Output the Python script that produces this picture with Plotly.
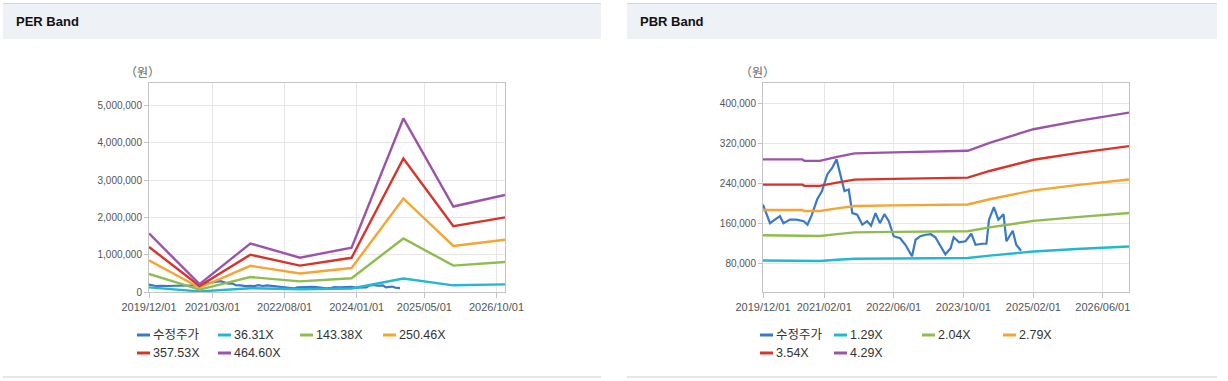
import plotly.graph_objects as go

W, H = 1228, 381

# ---------------- PER band data (left) ----------------
per_dates = ["2019-12-01", "2020-11-28", "2021-11-28", "2022-11-19",
             "2023-11-25", "2024-12-01", "2025-11-25", "2026-12-01"]
per_36 = [123000, 16000, 102000, 72000, 93000, 363000, 179000, 203000]
per_143 = [485000, 65000, 401000, 284000, 367000, 1435000, 707000, 802000]
per_250 = [846000, 113000, 701000, 496000, 642000, 2507000, 1235000, 1402000]
per_357 = [1208000, 162000, 1000000, 708000, 916000, 3579000, 1762000, 2001000]
per_464 = [1570000, 210000, 1300000, 920000, 1190000, 4650000, 2290000, 2600000]

# ---------------- adjusted price (both charts) ----------------
price_dates = ["2019-12-01", "2020-01-19", "2020-02-22", "2020-03-28", "2020-04-22",
               "2020-06-07", "2020-07-22", "2020-09-10", "2020-10-07", "2020-11-07",
               "2020-12-13", "2021-01-16", "2021-02-22", "2021-03-28", "2021-04-28",
               "2021-05-25", "2021-06-22", "2021-07-22", "2021-08-16", "2021-09-19",
               "2021-10-25", "2021-11-28", "2021-12-25", "2022-01-25", "2022-02-25",
               "2022-03-28", "2022-04-28", "2022-06-01", "2022-07-16", "2022-08-22",
               "2022-10-07", "2022-11-01", "2022-12-04", "2023-01-10", "2023-02-16",
               "2023-03-19", "2023-04-25", "2023-05-28", "2023-07-04", "2023-07-25",
               "2023-09-01", "2023-10-16", "2023-11-25", "2023-12-25", "2024-02-10",
               "2024-03-10", "2024-03-28", "2024-05-01", "2024-06-01", "2024-07-07",
               "2024-07-28", "2024-09-10", "2024-10-04", "2024-11-07"]
price = [198000, 161000, 168000, 175000, 161000,
         168000, 168000, 165000, 158000, 178000,
         208000, 225000, 258000, 271000, 288000,
         258000, 225000, 228000, 181000, 178000,
         158000, 165000, 156000, 181000, 161000,
         179000, 165000, 135000, 131000, 118000,
         95000, 128000, 135000, 138000, 139000,
         133000, 115000, 99000, 111000, 133000,
         123000, 125000, 140000, 118000, 120000,
         120000, 168000, 193000, 168000, 179000,
         125000, 146000, 118000, 106000]

# ---------------- PBR band data (right) ----------------
pbr_dates = ["2019-12-01", "2020-09-01", "2020-09-15", "2021-01-01", "2021-05-01",
             "2021-09-01", "2022-06-01", "2023-11-01", "2024-04-01", "2025-02-01",
             "2025-12-01", "2026-12-01"]
pbr_129 = [86600, 86600, 85700, 85700, 88100, 90200, 90800, 91700, 96500, 104600, 109500, 114600]
pbr_204 = [136900, 136900, 135500, 135500, 139300, 142700, 143600, 145000, 152600, 165500, 173100, 181200]
pbr_279 = [187300, 187300, 185300, 185300, 190500, 195100, 196400, 198300, 208700, 226300, 236700, 247800]
pbr_354 = [237700, 237700, 235200, 235200, 241800, 247600, 249200, 251700, 264900, 287200, 300400, 314400]
pbr_429 = [288000, 288000, 285000, 285000, 293000, 300000, 302000, 305000, 321000, 348000, 364000, 381000]

price_name = "수정주가"
per_names = ["36.31X", "143.38X", "250.46X", "357.53X", "464.60X"]
pbr_names = ["1.29X", "2.04X", "2.79X", "3.54X", "4.29X"]

per_ticks = ["2019-12-01", "2021-03-01", "2022-08-01", "2024-01-01", "2025-05-01", "2026-10-01"]
pbr_ticks = ["2019-12-01", "2021-02-01", "2022-06-01", "2023-10-01", "2025-02-01", "2026-06-01"]
per_yticks = [0, 1000000, 2000000, 3000000, 4000000, 5000000]
pbr_yticks = [80000, 160000, 240000, 320000, 400000]

COL_PRICE = "#3a78c9"
BAND_COLS = ["#22b8cf", "#8fbc4f", "#f5a531", "#d6352c", "#9b55a8"]

FONT = "Liberation Sans, Arial, Noto Sans CJK KR, sans-serif"


def fx(p):
    return p / W


def fy(p):
    return 1 - p / H


fig = go.Figure()

# left chart traces
fig.add_trace(go.Scatter(x=price_dates, y=price, name=price_name, mode="lines",
                         line=dict(color=COL_PRICE, width=2.2), xaxis="x", yaxis="y"))
per_series = [per_36, per_143, per_250, per_357, per_464]
for i, (nm, vals) in enumerate(zip(per_names, per_series)):
    fig.add_trace(go.Scatter(x=per_dates, y=vals, name=nm, mode="lines",
                             line=dict(color=BAND_COLS[i], width=2.4), xaxis="x", yaxis="y"))

# right chart traces
fig.add_trace(go.Scatter(x=price_dates, y=price, name=price_name, mode="lines",
                         line=dict(color=COL_PRICE, width=2.2), xaxis="x2", yaxis="y2"))
pbr_series = [pbr_129, pbr_204, pbr_279, pbr_354, pbr_429]
for i, (nm, vals) in enumerate(zip(pbr_names, pbr_series)):
    fig.add_trace(go.Scatter(x=pbr_dates, y=vals, name=nm, mode="lines",
                             line=dict(color=BAND_COLS[i], width=2.4), xaxis="x2", yaxis="y2"))

axis_common = dict(showgrid=True, gridcolor="#e6e6e6", gridwidth=1,
                   showline=True, linecolor="#c4c4c4", linewidth=1, mirror=True,
                   ticks="outside", tickcolor="#c4c4c4", zeroline=False,
                   fixedrange=True)

xfont = dict(family=FONT, size=11, color="#555555")
yfont = dict(family=FONT, size=10, color="#555555")

shapes = [
    dict(type="rect", xref="paper", yref="paper", x0=fx(3), x1=fx(601),
         y0=fy(39), y1=fy(3.5), fillcolor="#eef2f7", line=dict(width=0), layer="below"),
    dict(type="rect", xref="paper", yref="paper", x0=fx(627), x1=fx(1217),
         y0=fy(39), y1=fy(3.5), fillcolor="#eef2f7", line=dict(width=0), layer="below"),
    dict(type="line", xref="paper", yref="paper", x0=fx(3), x1=fx(601),
         y0=fy(3.5), y1=fy(3.5), line=dict(color="#d4d4d4", width=1)),
    dict(type="line", xref="paper", yref="paper", x0=fx(627), x1=fx(1217),
         y0=fy(3.5), y1=fy(3.5), line=dict(color="#d4d4d4", width=1)),
    dict(type="line", xref="paper", yref="paper", x0=fx(3), x1=fx(601),
         y0=fy(377), y1=fy(377), line=dict(color="#d0d0d0", width=1)),
    dict(type="line", xref="paper", yref="paper", x0=fx(627), x1=fx(1217),
         y0=fy(377), y1=fy(377), line=dict(color="#d0d0d0", width=1)),
]

annotations = [
    dict(text="<b>PER Band</b>", xref="paper", yref="paper", x=fx(14), y=fy(21.5),
         xanchor="left", yanchor="middle", showarrow=False,
         font=dict(family=FONT, size=13, color="#111111")),
    dict(text="<b>PBR Band</b>", xref="paper", yref="paper", x=fx(638), y=fy(21.5),
         xanchor="left", yanchor="middle", showarrow=False,
         font=dict(family=FONT, size=13, color="#111111")),
    dict(text="（원）", xref="paper", yref="paper", x=fx(142), y=fy(71),
         xanchor="center", yanchor="middle", showarrow=False,
         font=dict(family="Noto Sans CJK KR, sans-serif", size=12, color="#666666")),
    dict(text="（원）", xref="paper", yref="paper", x=fx(757), y=fy(71),
         xanchor="center", yanchor="middle", showarrow=False,
         font=dict(family="Noto Sans CJK KR, sans-serif", size=12, color="#666666")),
]

# legends (short line glyph + text), laid out like the reference
left_entries = [price_name] + per_names
right_entries = [price_name] + pbr_names
entry_cols = [COL_PRICE] + BAND_COLS
left_slots = [(137, 335), (218, 335), (300, 335), (383, 335), (137, 353), (218, 353)]
right_slots = [(760, 335), (834, 335), (922, 335), (1003, 335), (760, 353), (834, 353)]
for entries, slots in ((left_entries, left_slots), (right_entries, right_slots)):
    for name, col, (sx, sy) in zip(entries, entry_cols, slots):
        shapes.append(dict(type="line", xref="paper", yref="paper",
                           x0=fx(sx), x1=fx(sx + 13), y0=fy(sy), y1=fy(sy),
                           line=dict(color=col, width=3)))
        annotations.append(dict(text=name, xref="paper", yref="paper",
                                x=fx(sx + 14), y=fy(sy), xanchor="left", yanchor="middle",
                                showarrow=False,
                                font=dict(family=FONT, size=12.5, color="#333333")))

fig.update_layout(
    width=W, height=H,
    margin=dict(l=0, r=0, t=0, b=0, autoexpand=False),
    paper_bgcolor="#ffffff", plot_bgcolor="#ffffff",
    showlegend=False,
    xaxis=dict(domain=[fx(149), fx(505)], anchor="y", type="date",
               range=["2019-12-01", "2026-12-01"], tickvals=per_ticks,
               tickformat="%Y/%m/%d", ticklen=5, tickfont=xfont, **axis_common),
    yaxis=dict(domain=[fy(292), fy(83)], anchor="x", range=[0, 5600000],
               tickvals=per_yticks, tickformat=",", ticklen=4, tickfont=yfont,
               **axis_common),
    xaxis2=dict(domain=[fx(763), fx(1129)], anchor="y2", type="date",
                range=["2019-12-01", "2026-12-01"], tickvals=pbr_ticks,
                tickformat="%Y/%m/%d", ticklen=5, tickfont=xfont, **axis_common),
    yaxis2=dict(domain=[fy(292), fy(83)], anchor="x2", range=[24000, 440000],
                tickvals=pbr_yticks, tickformat=",", ticklen=4, tickfont=yfont,
                **axis_common),
    shapes=shapes,
    annotations=annotations,
)

fig.write_html("out.html",
               config={"displayModeBar": False},
               post_script="document.body.style.margin='0';document.body.style.padding='0';")
